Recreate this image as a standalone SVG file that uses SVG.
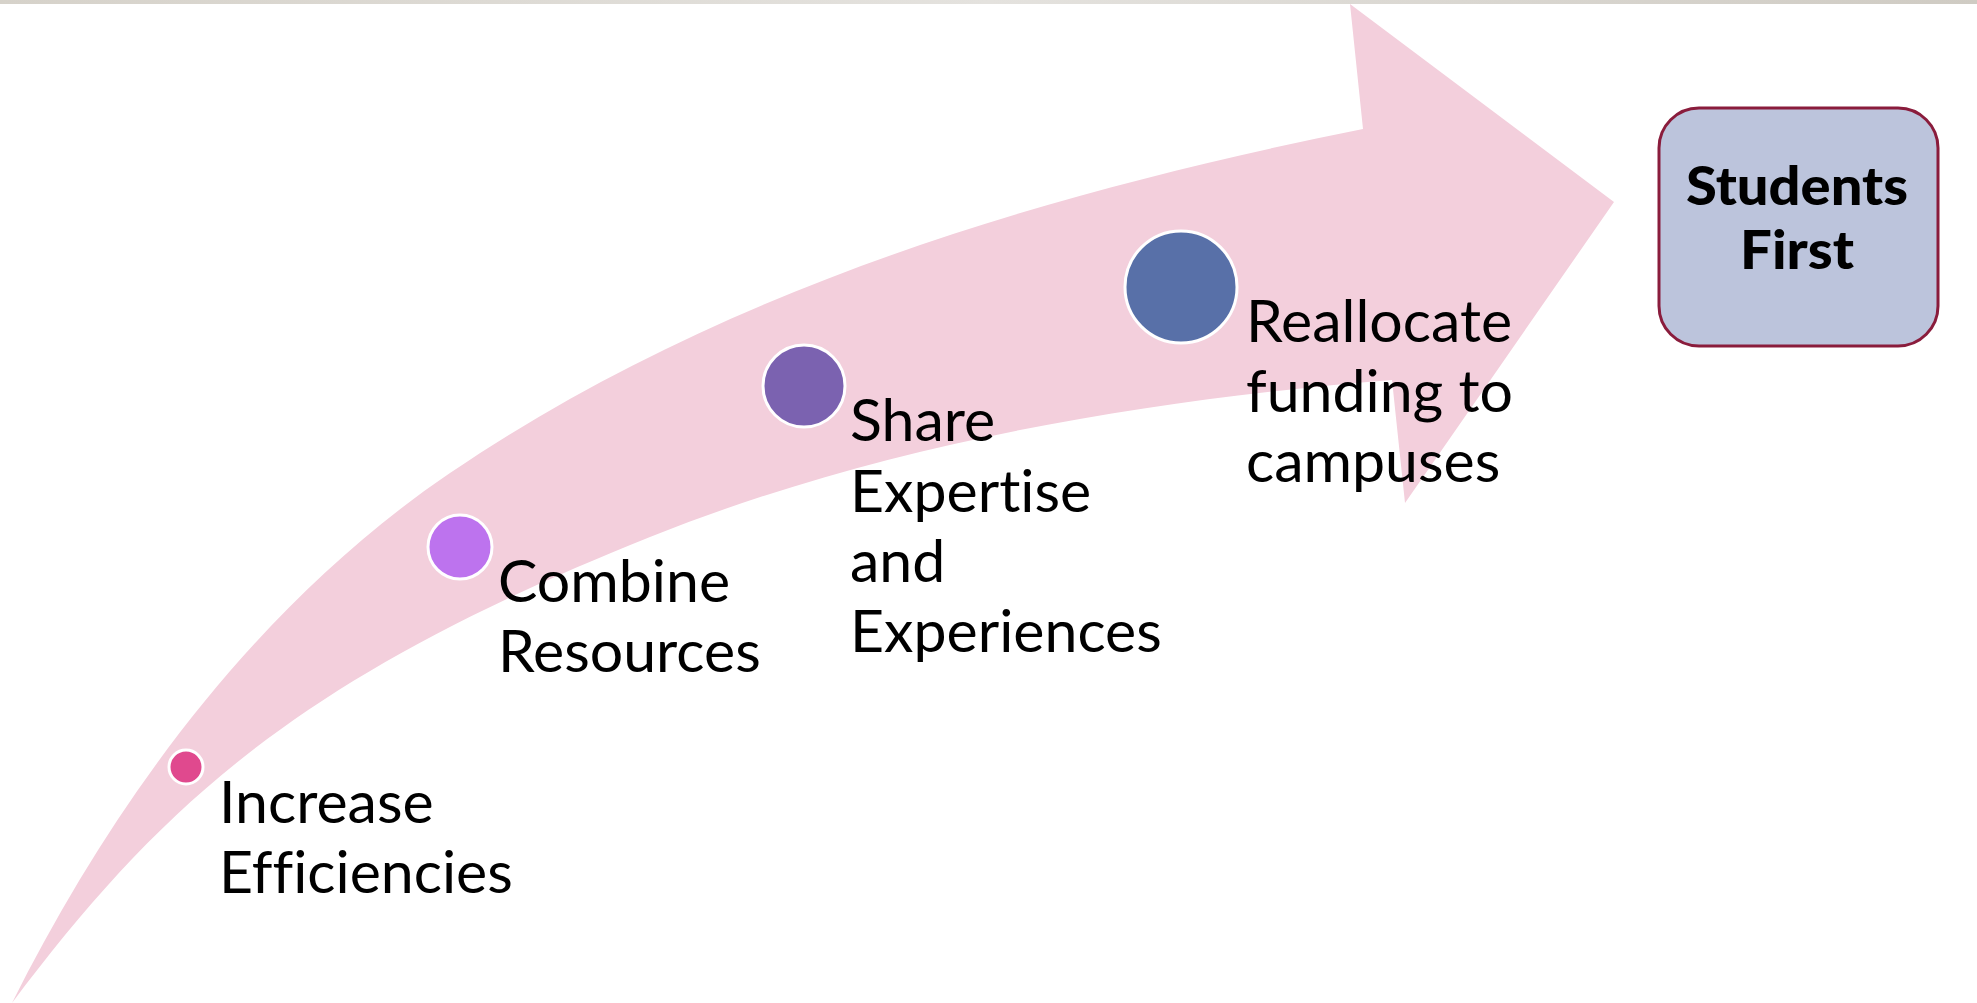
<svg xmlns="http://www.w3.org/2000/svg" width="1977" height="1003" viewBox="0 0 1977 1003">
<defs>
<linearGradient id="bar" x1="0" y1="0" x2="1" y2="0">
<stop offset="0" stop-color="#d6d2ca"/>
<stop offset="0.5" stop-color="#e4e2de"/>
<stop offset="1" stop-color="#cfcbc3"/>
</linearGradient>
<style>
.lbl{font-family:Lato,"Open Sans","Liberation Sans",sans-serif;font-size:59px;fill:#000;font-variant-ligatures:none;font-feature-settings:"liga" 0,"dlig" 0}
.dot{stroke:#ffffff;stroke-width:3}
.goal{font-family:Lato,"Liberation Sans",sans-serif;font-weight:900;font-size:54px;fill:#000;text-anchor:middle}
</style>
</defs>
<rect x="0" y="0" width="1977" height="1003" fill="#ffffff"/>
<rect x="0" y="0" width="1977" height="4" fill="url(#bar)"/>
<g id="connectors">
<path id="arrow" fill="#f3cfdc" d="M 12 1003 C 115 797 260 602 450 473 C 719 290 1044 193 1363 129 L 1350 4 L 1614 202 L 1405 503 L 1392 380 C 1143 400 882 444 650 537 C 310 673 168 795 12 1003 Z"/>
</g>
<g id="step1">
<circle class="dot" cx="186" cy="767" r="17" fill="#e0498e"/>
<text class="lbl" x="219" y="823">Increase</text>
<text class="lbl" x="219" y="893">Efficiencies</text>
</g>
<g id="step2">
<circle class="dot" cx="460" cy="547" r="32" fill="#bd73ee"/>
<text class="lbl" x="498" y="602">Combine</text>
<text class="lbl" x="498" y="672">Resources</text>
</g>
<g id="step3">
<circle class="dot" cx="804" cy="386" r="41" fill="#7b62b0"/>
<text class="lbl" x="850" y="441">Share</text>
<text class="lbl" x="850" y="512">Expertise</text>
<text class="lbl" x="850" y="582">and</text>
<text class="lbl" x="850" y="652">Experiences</text>
</g>
<g id="step4">
<circle class="dot" cx="1181" cy="287" r="56" fill="#5870a8"/>
<text class="lbl" x="1246" y="342">Reallocate</text>
<text class="lbl" x="1246" y="412">funding to</text>
<text class="lbl" x="1246" y="482">campuses</text>
</g>
<g id="goal">
<rect x="1659" y="108" width="279" height="238" rx="40" ry="40" fill="#bcc4dc" stroke="#8a1c3c" stroke-width="3"/>
<text class="goal" x="1797" y="205" textLength="222" lengthAdjust="spacingAndGlyphs">Students</text>
<text class="goal" x="1797" y="269" textLength="114" lengthAdjust="spacingAndGlyphs">First</text>
</g>
</svg>
